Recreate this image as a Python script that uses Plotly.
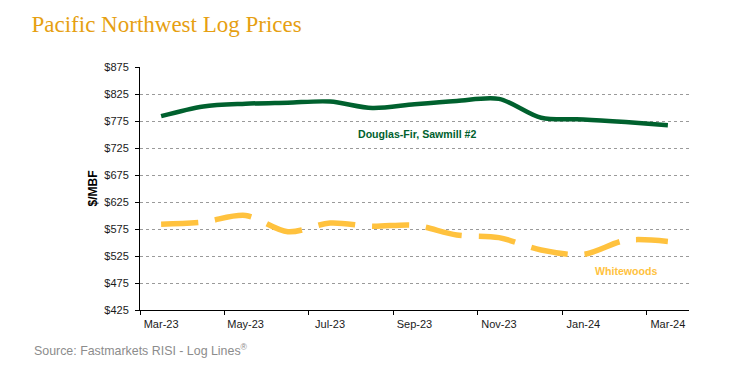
import plotly.graph_objects as go

months = ["Mar-23", "Apr-23", "May-23", "Jun-23", "Jul-23", "Aug-23", "Sep-23",
          "Oct-23", "Nov-23", "Dec-23", "Jan-24", "Feb-24", "Mar-24"]
douglas_fir = [784, 802, 807, 809, 811, 799, 806, 812, 816, 781, 778, 773, 767]
whitewoods = [584, 588, 600, 570, 586, 580, 582, 564, 559, 536, 528, 554, 552]
y_ticks = [425, 475, 525, 575, 625, 675, 725, 775, 825, 875]

x_idx = list(range(len(months)))
tick_idx = x_idx[::2]
tick_txt = months[::2]

GREEN = "#00612E"
YELLOW = "#FFC23E"
TITLE_C = "#E69F12"
NARROW = "Liberation Sans Narrow, Arial Narrow, Liberation Sans, Arial, sans-serif"

# page has an 8px body margin; figure sized to fill the rest of the window
W, H = 739, 368
L, R, T, B = 132, 58, 59, 66
PW, PH = W - L - R, H - T - B

fig = go.Figure()
fig.add_trace(go.Scatter(
    x=x_idx, y=douglas_fir, mode="lines", name="Douglas-Fir, Sawmill #2",
    line=dict(color=GREEN, width=4.5, shape="spline", smoothing=0.9),
    hoverinfo="skip"))
fig.add_trace(go.Scatter(
    x=x_idx, y=whitewoods, mode="lines", name="Whitewoods",
    line=dict(color=YELLOW, width=5.5, shape="spline", smoothing=0.9, dash="37px,17px"),
    hoverinfo="skip"))

fig.add_annotation(x=6.05, y=751, xref="x", yref="y", text="<b>Douglas-Fir, Sawmill #2</b>",
                   showarrow=False, font=dict(family=NARROW, size=10.6, color=GREEN))
fig.add_annotation(x=11.0, y=497, xref="x", yref="y", text="<b>Whitewoods</b>",
                   showarrow=False, font=dict(family=NARROW, size=10.6, color=YELLOW))

fig.add_annotation(x=(23.5 - L) / PW, y=(H - B - 342) / PH, xref="paper", yref="paper",
                   text="Source: Fastmarkets RISI - Log Lines<sup>®</sup>", showarrow=False,
                   xanchor="left", yanchor="middle",
                   font=dict(family="Liberation Sans, Arial, sans-serif", size=12.4, color="#8C8C8C"))

fig.update_layout(
    width=W, height=H,
    margin=dict(l=L, r=R, t=T, b=B, autoexpand=False),
    paper_bgcolor="white", plot_bgcolor="white",
    showlegend=False,
    font=dict(family="Liberation Sans, Arial, sans-serif", size=11, color="#1A1A1A"),
    title=dict(text="Pacific Northwest Log Prices", xref="container", yref="container",
               x=23.5 / W, xanchor="left", y=1 - 16 / H, yanchor="middle",
               font=dict(family="Liberation Serif, Times New Roman, serif", size=23, color=TITLE_C)),
)
fig.update_xaxes(
    range=[-0.5, 12.5], tickmode="array", tickvals=tick_idx, ticktext=tick_txt,
    ticks="", showgrid=False, zeroline=False,
    showline=True, linecolor="black", linewidth=1,
    minor=dict(tick0=-0.5, dtick=2, ticks="outside", ticklen=4, tickcolor="black", showgrid=False),
    tickfont=dict(size=11), ticklabelstandoff=4,
)
fig.update_yaxes(
    range=[425, 875], tickmode="array", tickvals=y_ticks,
    ticktext=[f"${v}" for v in y_ticks],
    ticks="outside", ticklen=4, tickcolor="black",
    showline=True, linecolor="black", linewidth=1,
    showgrid=True, gridcolor="#9A9A9A", gridwidth=1, griddash="dot",
    zeroline=False, tickfont=dict(size=11), ticklabelstandoff=4,
    title=dict(text="<b>$/MBF</b>", font=dict(size=12, color="black"), standoff=4),
)

fig.write_html("out.html")
